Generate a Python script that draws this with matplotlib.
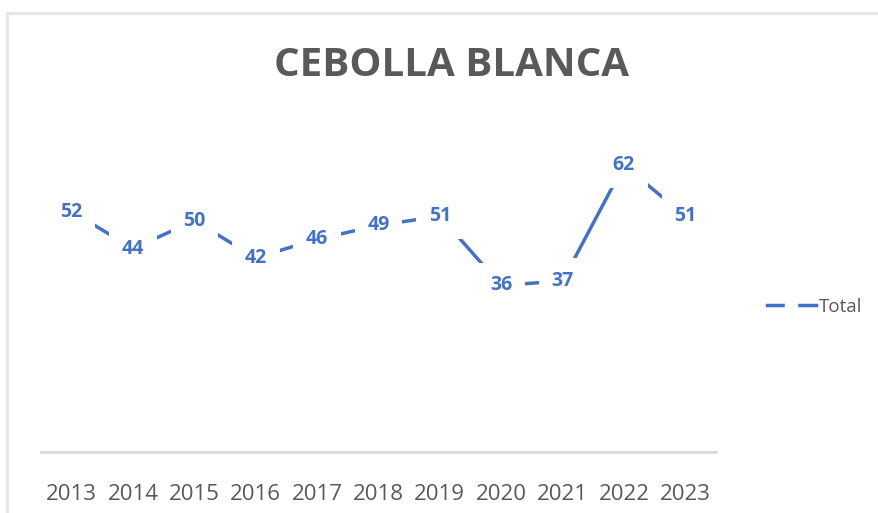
import matplotlib
matplotlib.use("Agg")
from matplotlib import pyplot as plt
from matplotlib.lines import Line2D

years = ["2013", "2014", "2015", "2016", "2017", "2018", "2019", "2020", "2021", "2022", "2023"]
totals = [52, 44, 50, 42, 46, 49, 51, 36, 37, 62, 51]
series_name = "Total"
title = "CEBOLLA BLANCA"

LINE_BLUE = "#4472C4"
TEXT_GRAY = "#595959"
FONTS = ["Open Sans", "DejaVu Sans"]

W, H = 879, 513
fig = plt.figure(figsize=(W / 100, H / 100), dpi=100)

# light chart-area frame (top and left edges visible)
fig.add_artist(Line2D([7 / W, 1], [1 - 13 / H, 1 - 13 / H], color="#E6E6E6", linewidth=2))
fig.add_artist(Line2D([7 / W, 7 / W], [0, 1 - 13 / H], color="#E6E6E6", linewidth=2))

axis = fig.add_axes([41 / W, (H - 452) / H, 675 / W, 370 / H])
ticks = list(range(len(years)))

axis.plot(ticks, totals, color=LINE_BLUE, linewidth=2.5, solid_capstyle="butt", zorder=2)

# data labels sit on the points with a white box, which breaks the line around them
for tick, value in zip(ticks, totals):
    axis.text(
        tick,
        value,
        str(value),
        color=LINE_BLUE,
        fontsize=14,
        fontweight="bold",
        family=FONTS,
        ha="center",
        va="center",
        zorder=3,
        bbox=dict(boxstyle="square,pad=0.65", facecolor="white", edgecolor="none"),
    )

axis.set_xlim(-0.5, len(years) - 0.5)
axis.set_ylim(0, 80)
axis.set_xticks(ticks)
axis.set_xticklabels(years, fontsize=16, color=TEXT_GRAY, family=FONTS)
axis.tick_params(axis="x", length=0, pad=23)
axis.set_yticks([])
for side in ["top", "right", "left"]:
    axis.spines[side].set_visible(False)
axis.spines["bottom"].set_color("#D9D9D9")
axis.spines["bottom"].set_linewidth(2)

fig.text(
    452 / W,
    1 - 66 / H,
    title,
    ha="center",
    va="center",
    fontsize=29,
    fontweight="bold",
    color=TEXT_GRAY,
    family=FONTS,
)

handle = Line2D(
    [], [], color=LINE_BLUE, linewidth=2.5, marker="s", markersize=9,
    markerfacecolor="white", markeredgecolor="white",
)
fig.legend(
    [handle],
    [series_name],
    loc="center left",
    bbox_to_anchor=(750 / W, 1 - 307 / H),
    frameon=False,
    handlelength=2.6,
    handletextpad=0.15,
    prop={"family": FONTS, "size": 13.5},
    labelcolor=TEXT_GRAY,
)

fig.savefig("out.png", dpi=100)
